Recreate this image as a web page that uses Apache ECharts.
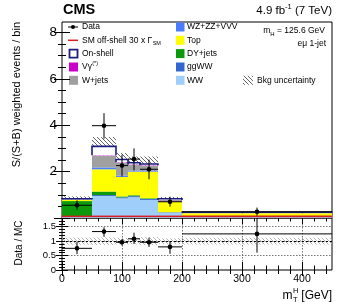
<!DOCTYPE html>
<html><head><meta charset="utf-8">
<script src="https://cdn.jsdelivr.net/npm/echarts@6/dist/echarts.min.js"></script>
<style>html,body{margin:0;padding:0;background:#fff}#c{width:349px;height:302px}</style>
</head><body><div id="c"></div>
<script>
// ---------------- data ----------------
const binEdges = [0, 50, 90, 110, 130, 160, 200, 450];
const wwVals     = [0.05, 0.95, 0.85, 0.90, 0.78, 0.23, 0.05];
const ggwwVals   = [0.00, 0.04, 0.04, 0.04, 0.04, 0.02, 0.01];
const dyVals     = [0.68, 0.15, 0.04, 0.04, 0.03, 0.00, 0.00];
const topVals    = [0.05, 0.96, 0.84, 1.02, 1.15, 0.45, 0.14];
const vzVals     = [0.01, 0.08, 0.06, 0.05, 0.05, 0.02, 0.01];
const wjetsVals  = [0.02, 0.50, 0.55, 0.24, 0.20, 0.05, 0.03];
const vgVals     = [0.00, 0.02, 0.02, 0.02, 0.02, 0.01, 0.00];
const onshellVals= [0.02, 0.39, 0.12, 0.07, 0.06, 0.05, 0.01];
const bkgUncVals = [0.10, 0.40, 0.28, 0.27, 0.32, 0.08, 0.03];
const offshellVals=[0.07, 0.07, 0.07, 0.07, 0.07, 0.07, 0.07];
const dataX  = [25, 70, 100, 120, 145, 180, 325];
const dataY  = [0.55, 3.98, 2.26, 2.54, 2.10, 0.70, 0.27];
const dataLo = [0.35, 3.42, 1.79, 2.05, 1.67, 0.49, 0.10];
const dataHi = [0.76, 4.52, 2.73, 3.00, 2.52, 0.92, 0.45];
const ratioY  = [0.75, 1.33, 0.96, 1.08, 0.96, 0.80, 1.25];
const ratioLo = [0.55, 1.15, 0.85, 0.90, 0.80, 0.56, 0.60];
const ratioHi = [0.98, 1.48, 1.07, 1.29, 1.12, 1.00, 2.20];
const mainYTicks = [0, 2, 4, 6, 8];
const mainYLabels = [2, 4, 6, 8];
const ratioYTicks = [0, 0.5, 1, 1.5];
const xTicks = [0, 100, 200, 300, 400];

// ---------------- helpers ----------------
const FONT = '"Liberation Sans", Arial, Helvetica, sans-serif';
function hatch(color, step, lw) {
  const c = document.createElement('canvas'); c.width = step; c.height = step;
  const g = c.getContext('2d'); g.strokeStyle = color; g.lineWidth = lw;
  g.beginPath();
  g.moveTo(-1, -1); g.lineTo(step + 1, step + 1);
  g.moveTo(-1, step - 1); g.lineTo(1, step + 1);
  g.moveTo(step - 1, -1); g.lineTo(step + 1, 1);
  g.stroke();
  return { image: c, repeat: 'repeat' };
}
const hatchMain = hatch('#555', 4, 0.9);
const hatchRatio = hatch('#aaa', 4, 0.9);

const meas = document.createElement('canvas').getContext('2d');
function tw(t, size, w) { meas.font = (w || 'normal') + ' ' + size + 'px ' + FONT; return meas.measureText(t).width; }
function T(x, y, text, size, o) {
  o = o || {};
  return { type: 'text', x: x, y: y, rotation: o.r || 0, silent: true, z: 100,
    style: { text: text, fontSize: size, fontFamily: FONT, fontWeight: o.w || 'normal', fill: o.c || '#000',
      align: o.a || 'left', verticalAlign: o.v || 'middle' } };
}
function range(a, b, s, skip) { const r = []; for (let v = a; v <= b + 1e-9; v += s) { const q = Math.round(v * 1000) / 1000; if (!skip || !skip(q)) r.push(q); } return r; }

const comps = [
  { v: wwVals, c: '#a0cefb' },
  { v: ggwwVals, c: '#3466d2' },
  { v: dyVals, c: '#0c9a0c' },
  { v: topVals, c: '#ffff00' },
  { v: vzVals, c: '#4a7cff' },
  { v: wjetsVals, c: '#a0a0a0' },
  { v: vgVals, c: '#cc00cc' },
  { v: onshellVals, c: '#ffffff', stroke: '#1c1c80' }
];
const nb = binEdges.length - 1;
const cum = new Array(nb).fill(0);
const series = [];
const totals = [];
const stackSeries = comps.map(function (cp) {
  const d = [];
  for (let i = 0; i < nb; i++) { d.push([binEdges[i], binEdges[i + 1], cum[i], cum[i] + cp.v[i]]); cum[i] += cp.v[i]; }
  return { cp: cp, d: d };
});
for (let i = 0; i < nb; i++) totals.push(cum[i]);

function rectRender(fill, stroke, lw) {
  return function (params, api) {
    const p0 = api.coord([api.value(0), api.value(2)]);
    const p1 = api.coord([api.value(1), api.value(3)]);
    const shape = { x: p0[0], y: p1[1], width: p1[0] - p0[0], height: p0[1] - p1[1] };
    if (!stroke) return { type: 'rect', shape: shape, style: { fill: fill } };
    return { type: 'group', children: [
      { type: 'rect', shape: shape, style: { fill: fill } },
      { type: 'polyline', shape: { points: [[p0[0], p0[1]], [p0[0], p1[1]], [p1[0], p1[1]], [p1[0], p0[1]]] }, style: { stroke: stroke, lineWidth: lw, fill: null } }
    ] };
  };
}

const MX = 0, MY = 0;
// hatch band (behind stack)
series.push({ type: 'custom', xAxisIndex: MX, yAxisIndex: MY, z: 1, silent: true,
  data: totals.map(function (t, i) { return [binEdges[i], binEdges[i + 1], t - bkgUncVals[i], t + bkgUncVals[i]]; }),
  renderItem: rectRender(hatchMain) });
stackSeries.forEach(function (s, k) {
  series.push({ type: 'custom', xAxisIndex: MX, yAxisIndex: MY, z: 2 + k, silent: true, data: s.d,
    renderItem: rectRender(s.cp.c, s.cp.stroke, 1.6) });
});
// SM off-shell (red line)
series.push({ type: 'custom', xAxisIndex: MX, yAxisIndex: MY, z: 20, silent: true,
  data: offshellVals.map(function (v, i) { return [binEdges[i], binEdges[i + 1], v]; }),
  renderItem: function (params, api) {
    const a = api.coord([api.value(0), api.value(2)]), b = api.coord([api.value(1), api.value(2)]);
    return { type: 'line', shape: { x1: a[0], y1: a[1], x2: b[0], y2: b[1] }, style: { stroke: '#d81e1e', lineWidth: 1.6 } };
  } });

function pointRender(params, api) {
  const cs = params.coordSys;
  const x = api.value(0), y = api.value(1), lo = api.value(2), hi = api.value(3), x0 = api.value(4), x1 = api.value(5);
  const pc = api.coord([x, y]), pl = api.coord([x0, y]), pr = api.coord([x1, y]);
  const pb = api.coord([x, lo]), pt = api.coord([x, hi]);
  const top = Math.max(pt[1], cs.y), bot = Math.min(pb[1], cs.y + cs.height);
  return { type: 'group', children: [
    { type: 'line', shape: { x1: pl[0], y1: pc[1], x2: pr[0], y2: pc[1] }, style: { stroke: '#000', lineWidth: 1 } },
    { type: 'line', shape: { x1: pc[0], y1: top, x2: pc[0], y2: bot }, style: { stroke: '#000', lineWidth: 1 } },
    { type: 'circle', shape: { cx: pc[0], cy: pc[1], r: 2.3 }, style: { fill: '#000' } }
  ] };
}
series.push({ type: 'custom', xAxisIndex: MX, yAxisIndex: MY, z: 30, silent: true,
  data: dataX.map(function (x, i) { return [x, dataY[i], dataLo[i], dataHi[i], binEdges[i], binEdges[i + 1]]; }),
  renderItem: pointRender });

// ---------------- axes ----------------
function ax(grid, pos, min, max, ticks, len, opts) {
  opts = opts || {};
  return Object.assign({ type: 'value', gridIndex: grid, position: pos, min: min, max: max,
    axisLine: { show: false }, splitLine: { show: false },
    axisTick: { show: true, inside: true, length: len, customValues: ticks, lineStyle: { color: '#000', width: 1 } },
    axisLabel: { show: false }, minorTick: { show: false } }, opts);
}
const yMinor = range(0.5, 8.45, 0.5, function (q) { return q % 2 === 0; });
const xMinor = range(20, 440, 20, function (q) { return q % 100 === 0; });
const rMinor = range(0.1, 1.79, 0.1, function (q) { return Math.abs(q * 2 - Math.round(q * 2)) < 1e-6; });
const xAxes = [
  ax(0, 'bottom', 0, 450, xTicks, 6),
  ax(0, 'bottom', 0, 450, xMinor, 3.5),
  ax(0, 'top', 0, 450, xTicks, 6),
  ax(0, 'top', 0, 450, xMinor, 3.5),
  ax(1, 'top', 0, 450, xTicks, 6),
  ax(1, 'top', 0, 450, xMinor, 4),
  ax(1, 'bottom', 0, 450, xMinor, 4.5),
  ax(1, 'bottom', 0, 450, xTicks, 8, {
    axisLabel: { show: true, customValues: xTicks, margin: 4, fontSize: 10.5, fontFamily: FONT, color: '#000' },
    splitLine: { show: true, lineStyle: { type: [1.5, 1.5], color: '#777', width: 1 } }, interval: 100 })
];
const yAxes = [
  ax(0, 'left', 0, 8.45, mainYTicks, 8, {
    axisLabel: { show: true, customValues: mainYLabels, margin: 5, fontSize: 13.5, fontFamily: FONT, color: '#000' } }),
  ax(0, 'left', 0, 8.45, yMinor, 4),
  ax(0, 'right', 0, 8.45, mainYTicks, 8),
  ax(0, 'right', 0, 8.45, yMinor, 4),
  ax(1, 'right', 0, 1.8, ratioYTicks, 6),
  ax(1, 'right', 0, 1.8, rMinor, 3),
  ax(1, 'left', 0, 1.8, rMinor, 3),
  ax(1, 'left', 0, 1.8, ratioYTicks, 6, {
    axisLabel: { show: true, customValues: ratioYTicks, margin: 6, fontSize: 9.5, fontFamily: FONT, color: '#000' },
    splitLine: { show: true, lineStyle: { type: [1.5, 1.5], color: '#777', width: 1 } }, interval: 0.5 })
];
const RXI = xAxes.length - 1, RYI = yAxes.length - 1;

// ratio panel
series.push({ type: 'custom', xAxisIndex: RXI, yAxisIndex: RYI, z: 1, silent: true,
  data: totals.map(function (t, i) { const r = bkgUncVals[i] / t; return [binEdges[i], binEdges[i + 1], 1 - r, 1 + r]; }),
  renderItem: rectRender(hatchRatio),
  markLine: { silent: true, symbol: 'none', label: { show: false }, lineStyle: { type: [2, 2], color: '#000', width: 1 }, data: [{ yAxis: 1 }] } });
series.push({ type: 'custom', xAxisIndex: RXI, yAxisIndex: RYI, z: 30, silent: true,
  data: dataX.map(function (x, i) { return [x, ratioY[i], ratioLo[i], ratioHi[i], binEdges[i], binEdges[i + 1]]; }),
  renderItem: pointRender });

// ---------------- text / legend ----------------
const G = [];
G.push(T(63, 10, 'CMS', 14.5, { w: 'bold' }));
(function () {
  const s = 11.5, ss = 7.5;
  const a = '4.9 fb', b = '-1', c = ' (7 TeV)';
  const wa = tw(a, s), wb = tw(b, ss), wc = tw(c, s);
  let x = 332 - (wa + wb + wc);
  G.push(T(x, 11, a, s)); x += wa;
  G.push(T(x, 7, b, ss)); x += wb;
  G.push(T(x, 11, c, s));
})();
G.push(T(17, 22, 'S/(S+B) weighted events / bin', 11, { a: 'right', r: Math.PI / 2 }));
G.push(T(19, 243, 'Data / MC', 10, { a: 'center', r: Math.PI / 2 }));
(function () {
  const s = 12, ss = 7.5;
  const wm = tw('m', s), wh = tw('H', ss), wg = tw(' [GeV]', s);
  let x = 332 - (wm + wh + wg);
  G.push(T(x, 296, 'm', s)); x += wm;
  G.push(T(x + 0.5, 291, 'H', ss));
  G.push(T(x + 0.5, 299.5, 'T', ss)); x += wh;
  G.push(T(x, 296, ' [GeV]', s));
})();
(function () {
  const s = 8.5, ss = 6;
  const t1 = ' = 125.6 GeV', w1 = tw(t1, s), wm = tw('m', s), wh = tw('H', ss);
  let x = 325 - (wm + wh + w1);
  G.push(T(x, 31, 'm', s)); x += wm;
  G.push(T(x, 34, 'H', ss)); x += wh;
  G.push(T(x, 31, t1, s));
  G.push(T(326, 43.5, 'eμ 1-jet', s, { a: 'right' }));
})();
const LS = 8.5;
const rowsY = [27, 40.3, 53.6, 67, 80.3];
G.push({ type: 'line', shape: { x1: 68, y1: rowsY[0], x2: 78, y2: rowsY[0] }, style: { stroke: '#000', lineWidth: 1 } });
G.push({ type: 'circle', shape: { cx: 73, cy: rowsY[0], r: 2 }, style: { fill: '#000' } });
G.push(T(82, rowsY[0], 'Data', LS));
G.push({ type: 'line', shape: { x1: 68, y1: rowsY[1], x2: 78, y2: rowsY[1] }, style: { stroke: '#d81e1e', lineWidth: 1.5 } });
(function () {
  const t = 'SM off-shell 30 x Γ', w = tw(t, LS);
  G.push(T(82, rowsY[1], t, LS));
  G.push(T(82 + w + 0.5, rowsY[1] + 3, 'SM', 5.5));
})();
G.push({ type: 'rect', shape: { x: 69.5, y: rowsY[2] - 4, width: 8, height: 8 }, style: { fill: '#fff', stroke: '#1c1c80', lineWidth: 1.8 } });
G.push(T(82, rowsY[2], 'On-shell', LS));
G.push({ type: 'rect', shape: { x: 69, y: rowsY[3] - 4.5, width: 9, height: 9 }, style: { fill: '#cc00cc' } });
(function () { const w = tw('Vγ', LS); G.push(T(82, rowsY[3], 'Vγ', LS)); G.push(T(82 + w + 0.3, rowsY[3] - 3.5, '(*)', 5.5)); })();
G.push({ type: 'rect', shape: { x: 69, y: rowsY[4] - 4.5, width: 9, height: 9 }, style: { fill: '#a0a0a0' } });
G.push(T(82, rowsY[4], 'W+jets', LS));
const rightLeg = [['WZ+ZZ+VVV', '#4a7cff'], ['Top', '#ffff00'], ['DY+jets', '#0c9a0c'], ['ggWW', '#3466d2'], ['WW', '#a0cefb']];
rightLeg.forEach(function (it, i) {
  G.push({ type: 'rect', shape: { x: 176, y: rowsY[i] - 4.5, width: 8.5, height: 9 }, style: { fill: it[1] } });
  G.push(T(187, rowsY[i], it[0], LS));
});
G.push({ type: 'rect', shape: { x: 243, y: rowsY[4] - 4.5, width: 10, height: 9 }, style: { fill: hatchMain } });
G.push(T(257, rowsY[4], 'Bkg uncertainty', LS));

const option = {
  animation: false,
  backgroundColor: '#fff',
  grid: [
    { left: 62, top: 22, width: 270, height: 196, show: true, borderColor: '#000', borderWidth: 1, backgroundColor: 'transparent' },
    { left: 62, top: 218, width: 270, height: 52, show: true, borderColor: '#000', borderWidth: 1, backgroundColor: 'transparent' }
  ],
  xAxis: xAxes,
  yAxis: yAxes,
  series: series,
  graphic: { elements: G.map(function (e) { e.silent = true; return e; }) }
};
const chart = echarts.init(document.getElementById('c'), null, { renderer: 'canvas', width: 349, height: 302 });
chart.setOption(option);
</script>
</body></html>
